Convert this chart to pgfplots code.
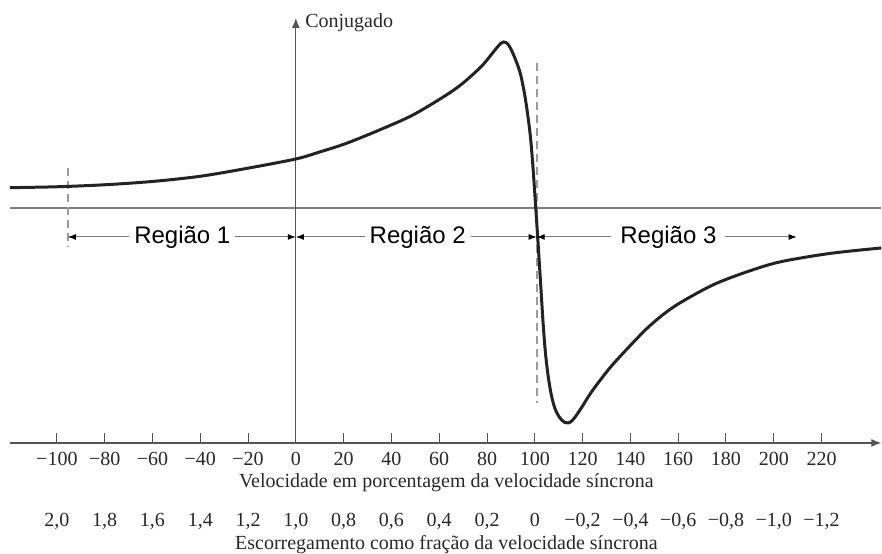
\documentclass[border=0pt]{standalone}
\usepackage{fontspec}
\setmainfont{Liberation Serif}
\newfontfamily\regfont{Liberation Sans}
\usepackage{pgfplots}
\pgfplotsset{compat=1.18}
\usetikzlibrary{arrows.meta}
\definecolor{curvecol}{RGB}{35,35,35}
\definecolor{axisgray}{RGB}{85,85,85}
\definecolor{zerogray}{RGB}{125,125,125}
\definecolor{dashgray}{RGB}{155,155,155}
\definecolor{txt}{RGB}{40,40,40}

% torque-speed curve, speed in % of synchronous speed
\pgfplotstableread{
v T
-119.7 2.03
-100 2.12
-80 2.32
-60 2.65
-40 3.17
-20 3.98
0 4.9
10 5.6
21 6.45
35 7.8
49 9.3
63 11.3
70 12.5
77 14.0
80 14.8
83 15.7
85.5 16.4
87 16.6
88.5 16.45
90 15.9
92 14.8
94 13.4
96 11.0
98 7.5
99.2 4.2
100.4 0
101.5 -4.0
102.5 -7.8
103.5 -11.6
104.5 -14.6
105.7 -17.0
107 -18.8
108.5 -20.1
110.5 -21.0
112.5 -21.45
114 -21.5
115.5 -21.3
117.5 -20.7
120 -19.8
124 -18.3
131.4 -16.0
139 -14.0
146.7 -12.1
153.5 -10.7
160.7 -9.5
174.5 -7.7
188.6 -6.4
202.5 -5.4
223.4 -4.55
245 -4.0
}\torque

\begin{document}
\begin{tikzpicture}
\begin{axis}[
  x=1.195bp, y=5bp,
  xmin=-119.7, xmax=245, ymin=-23.5, ymax=19,
  axis x line=bottom, axis y line=none,
  x axis line style={axisgray, line width=0.6bp, -{Latex[length=5bp,width=4bp]}},
  xtick={-100,-80,...,220},
  xticklabels={{−100\\[18.5bp]2,0},{−80\\[18.5bp]1,8},{−60\\[18.5bp]1,6},{−40\\[18.5bp]1,4},
    {−20\\[18.5bp]1,2},{0\\[18.5bp]1,0},{20\\[18.5bp]0,8},{40\\[18.5bp]0,6},{60\\[18.5bp]0,4},
    {80\\[18.5bp]0,2},{100\\[18.5bp]0},{120\\[18.5bp]−0,2},{140\\[18.5bp]−0,4},{160\\[18.5bp]−0,6},
    {180\\[18.5bp]−0,8},{200\\[18.5bp]−1,0},{220\\[18.5bp]−1,2}},
  tick align=inside,
  major tick length=5bp,
  tick style={axisgray, line width=0.5bp},
  xticklabel style={font=\fontsize{10bp}{12bp}\selectfont, align=center, text=txt, inner sep=1bp, yshift=-3.6bp},
  clip=false,
]
% bounding box corners
\coordinate (bl) at (axis cs:-123.8,-34.6);
\coordinate (tr) at (axis cs:245.3,20.8);

% zero torque line and torque axis
\draw[zerogray, line width=0.6bp] (axis cs:-119.7,0) -- (axis cs:245,0);
\draw[axisgray, line width=0.6bp, -{Latex[length=5bp,width=4bp]}] (axis cs:0,-23.5) -- (axis cs:0,19);
\node[anchor=west, inner sep=0pt, text=txt, font=\fontsize{10bp}{12bp}\selectfont] at (axis cs:3.8,18.5) {Conjugado};

% dashed limits
\draw[dashgray, line width=0.8bp, dash pattern=on 4bp off 2.5bp] (axis cs:-95.4,4.0) -- (axis cs:-95.4,-3.9);
\draw[dashgray, line width=0.8bp, dash pattern=on 4bp off 2.5bp] (axis cs:100.8,14.5) -- (axis cs:100.8,-19.5);

\addplot[curvecol, line width=1.5bp, smooth] table[x=v, y=T] {\torque};

% regions
\tikzset{reg/.style={zerogray, line width=0.5bp,
  {Latex[length=4bp,width=3bp,color=black]}-{Latex[length=4bp,width=3bp,color=black]}}}
\tikzset{regl/.style={fill=white, inner sep=2.5bp, text=black, font=\regfont\fontsize{12bp}{14bp}\selectfont}}
\draw[reg] (axis cs:-95.4,-2.9) -- (axis cs:0,-2.9);
\node[regl] at (axis cs:-47.5,-2.9) {Região 1};
\draw[reg] (axis cs:0,-2.9) -- (axis cs:100.8,-2.9);
\node[regl] at (axis cs:51,-2.9) {Região 2};
\draw[reg] (axis cs:100.8,-2.9) -- (axis cs:209.6,-2.9);
\node[regl, inner sep=4.5bp] at (axis cs:155.9,-2.9) {Região 3};

% axis titles
\node[text=txt, font=\fontsize{10bp}{12bp}\selectfont] at (axis cs:63,-27.5) {Velocidade em porcentagem da velocidade síncrona};
\node[text=txt, font=\fontsize{10bp}{12bp}\selectfont] at (axis cs:63,-33.7) {Escorregamento como fração da velocidade síncrona};
\end{axis}
\pgfresetboundingbox
\path (bl) rectangle (tr);
\end{tikzpicture}
\end{document}
